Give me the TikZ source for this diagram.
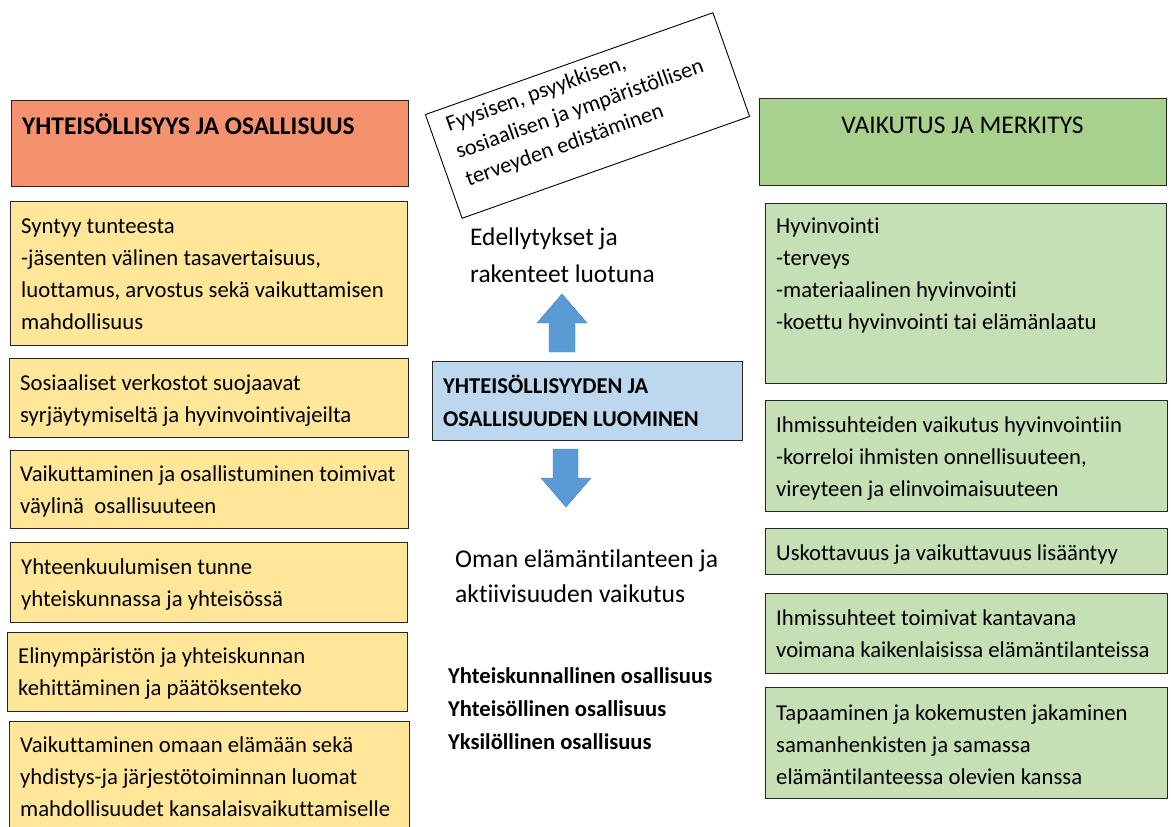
\documentclass[tikz,border=0pt]{standalone}
\usepackage{fontspec}
\setmainfont{Carlito}[Ligatures=NoCommon]
\usepackage{tikz}
\usetikzlibrary{positioning}

\definecolor{headorange}{HTML}{F49270}
\definecolor{boxyellow}{HTML}{FFE699}
\definecolor{headgreen}{HTML}{A9D18E}
\definecolor{boxgreen}{HTML}{C5E0B4}
\definecolor{boxblue}{HTML}{BDD7EE}
\definecolor{arrowblue}{HTML}{5B9BD5}

\begin{document}
\begin{tikzpicture}[x=1pt,y=-1pt,
    frame/.style={draw=black!85, line width=1.4pt, anchor=north west, inner sep=0pt},
    yellowbox/.style={frame, fill=boxyellow},
    greenbox/.style={frame, fill=boxgreen},
    boxtext/.style={anchor=base west, align=left, inner sep=0pt, font=\fontsize{22.7}{32}\selectfont},
    bigtext/.style={anchor=base west, align=left, inner sep=0pt, font=\fontsize{25.5}{36}\selectfont},
    blockarrow/.style={fill=arrowblue, draw=arrowblue!80!black, line width=0.4pt}]
                \useasboundingbox (0,0) rectangle (1171,827);
                \clip (0,0) rectangle (1171,827);

                % vasen sarake (ankkuri = viimeisen rivin perusviiva)
                \node[frame, fill=headorange, minimum width=397, minimum height=86] (lhead) at (11,100) {};
                \node[anchor=base west, inner sep=0pt, font=\fontsize{25.4}{30}\selectfont\bfseries] (lheadt) at (22,134) {YHTEISÖLLISYYS JA OSALLISUUS};

                \node[yellowbox, minimum width=397, minimum height=144] (y1) at (10,201) {};
                \node[boxtext] (y1t) at (21,329) {Syntyy tunteesta\\-jäsenten välinen tasavertaisuus,\\luottamus, arvostus sekä vaikuttamisen\\mahdollisuus};

                \node[yellowbox, minimum width=399, minimum height=79] (y2) at (9,358) {};
                \node[boxtext] (y2t) at (20,422) {Sosiaaliset verkostot suojaavat\\syrjäytymiseltä ja hyvinvointivajeilta};

                \node[yellowbox, minimum width=398, minimum height=78] (y3) at (10,450) {};
                \node[boxtext] (y3t) at (20,513) {Vaikuttaminen ja osallistuminen toimivat\\väylinä\ \ osallisuuteen};

                \node[yellowbox, minimum width=397, minimum height=80] (y4) at (10,542) {};
                \node[boxtext] (y4t) at (21,606) {Yhteenkuulumisen tunne\\yhteiskunnassa ja yhteisössä};

                \node[yellowbox, minimum width=400, minimum height=79] (y5) at (7,632) {};
                \node[boxtext] (y5t) at (18,695) {Elinympäristön ja yhteiskunnan\\kehittäminen ja päätöksenteko};

                \node[yellowbox, minimum width=400, minimum height=130] (y6) at (9,721) {};
                \node[boxtext] (y6t) at (20,816) {Vaikuttaminen omaan elämään sekä\\yhdistys-ja järjestötoiminnan luomat\\mahdollisuudet kansalaisvaikuttamiselle};

                % keskiosa
                \begin{scope}[shift={(587.5,115.5)}, rotate=19.5]
                    \node[draw, line width=0.9pt, fill=white, minimum width=305, minimum height=110, inner sep=0pt, transform shape] (health) at (0,0) {};
                    \node[transform shape, anchor=base west, align=left, inner sep=0pt, font=\fontsize{22.3}{29}\selectfont] (healtht) at (-136,27) {Fyysisen, psyykkisen,\\sosiaalisen ja ympäristöllisen\\terveyden edistäminen};
                \end{scope}

                \node[bigtext, font=\fontsize{25.4}{37}\selectfont] (ready) at (470,282) {Edellytykset ja\\rakenteet luotuna};

                \fill[blockarrow] (549,352) -- (549,323) -- (537,323) -- (562,294) -- (587,323) -- (575,323) -- (575,352) -- cycle;

                \node[frame, fill=boxblue, minimum width=310, minimum height=79] (create) at (432,361) {};
                \node[anchor=base west, align=left, inner sep=0pt, font=\fontsize{22.6}{33}\selectfont\bfseries] (createt) at (443,426) {YHTEISÖLLISYYDEN JA\\OSALLISUUDEN LUOMINEN};

                \fill[blockarrow] (553,449) -- (578,449) -- (578,478) -- (591,478) -- (566,507) -- (541,478) -- (553,478) -- cycle;

                \node[bigtext, font=\fontsize{25.6}{35}\selectfont] (own) at (455,602) {Oman elämäntilanteen ja\\aktiivisuuden vaikutus};

                \node[anchor=base west, align=left, inner sep=0pt, font=\fontsize{22.6}{33}\selectfont\bfseries] (levels) at (448,749) {Yhteiskunnallinen osallisuus\\Yhteisöllinen osallisuus\\Yksilöllinen osallisuus};

                % oikea sarake
                \node[frame, fill=headgreen, minimum width=407, minimum height=87] (rhead) at (759,98) {};
                \node[anchor=base, inner sep=0pt, font=\fontsize{25.5}{30}\selectfont] (rheadt) at (962.5,133) {VAIKUTUS JA MERKITYS};

                \node[greenbox, minimum width=401, minimum height=180] (g1) at (765,203) {};
                \node[boxtext] (g1t) at (776,329) {Hyvinvointi\\-terveys\\-materiaalinen hyvinvointi\\-koettu hyvinvointi tai elämänlaatu};

                \node[greenbox, minimum width=402, minimum height=111] (g2) at (765,400) {};
                \node[boxtext] (g2t) at (776,496) {Ihmissuhteiden vaikutus hyvinvointiin\\-korreloi ihmisten onnellisuuteen,\\vireyteen ja elinvoimaisuuteen};

                \node[greenbox, minimum width=402, minimum height=46] (g3) at (765,528) {};
                \node[boxtext] (g3t) at (776,560) {Uskottavuus ja vaikuttavuus lisääntyy};

                \node[greenbox, minimum width=402, minimum height=80] (g4) at (765,593) {};
                \node[boxtext] (g4t) at (776,657) {Ihmissuhteet toimivat kantavana\\voimana kaikenlaisissa elämäntilanteissa};

                \node[greenbox, minimum width=402, minimum height=111] (g5) at (765,687) {};
                \node[boxtext] (g5t) at (776,784) {Tapaaminen ja kokemusten jakaminen\\samanhenkisten ja samassa\\elämäntilanteessa olevien kanssa};
            \end{tikzpicture}
\end{document}
